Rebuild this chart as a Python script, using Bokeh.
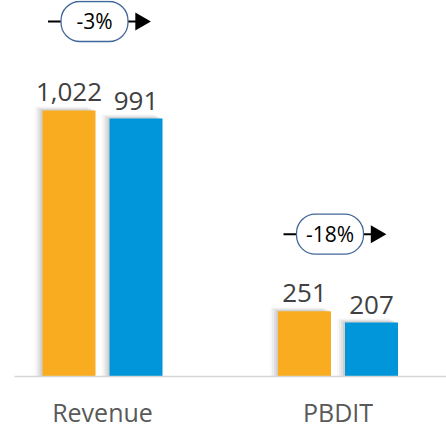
from bokeh.plotting import figure
from bokeh.models import Range1d, FixedTicker
from bokeh.core.properties import value
from bokeh.embed import file_html
from bokeh.resources import INLINE
import math

# ---- data ----
categories = ["Revenue", "PBDIT"]
prev_values = [1022, 251]
curr_values = [991, 207]
growth_labels = ["-3%", "-18%"]

# ---- style ----
ORANGE = "#F9AC1F"
BLUE = "#0096D9"
FONT = "Open Sans"
W, H = 446, 432
FRAME_LEFT = 14
FRAME_BOTTOM = 56
UNIT_PX = 235.5            # pixels per category step
FIRST_CENTER_PX = 88       # first category centre from frame left
Y_MAX = 1444.6             # y-range end
frame_w = W - FRAME_LEFT
frame_h = H - FRAME_BOTTOM
PX = 1.0 / UNIT_PX                 # data units per px (x)
PY = Y_MAX / frame_h               # data units per px (y)
x_start = -FIRST_CENTER_PX * PX
x_end = x_start + frame_w * PX
BAR_OFF = 33.5 * PX
BAR_W = 53 * PX
pill_dx = -8                        # pill centre offset from group centre (px)
pill_above_px = [89, 77]            # pill centre above taller bar (px)

p = figure(width=W, height=H, output_backend="svg", toolbar_location=None,
           x_range=Range1d(x_start, x_end), y_range=Range1d(0, Y_MAX),
           min_border_left=FRAME_LEFT, min_border_right=0, min_border_top=0,
           min_border_bottom=FRAME_BOTTOM)
p.outline_line_color = None
p.grid.visible = False
p.yaxis.visible = False
p.background_fill_color = "white"
p.border_fill_color = "white"

xs = list(range(len(categories)))
x_prev = [x - BAR_OFF for x in xs]
x_curr = [x + BAR_OFF for x in xs]

# soft shadows on the left side of bars
for k, a in [(8, 0.04), (6, 0.06), (4, 0.08), (2, 0.10)]:
    p.vbar(x=[x - k * PX for x in x_prev], top=[v + k * 0.5 * PY for v in prev_values],
           width=BAR_W, bottom=0, fill_color="#404040", fill_alpha=a, line_color=None)
    p.vbar(x=[x - k * PX for x in x_curr], top=[v + k * 0.5 * PY for v in curr_values],
           width=BAR_W, bottom=0, fill_color="#404040", fill_alpha=a, line_color=None)

p.vbar(x=x_prev, top=prev_values, width=BAR_W, bottom=0, fill_color=ORANGE, line_color=None)
p.vbar(x=x_curr, top=curr_values, width=BAR_W, bottom=0, fill_color=BLUE, line_color=None)

# value labels
for xv, vals in [(x_prev, prev_values), (x_curr, curr_values)]:
    p.text(x=xv, y=vals, text=[f"{v:,}" for v in vals],
           text_align="center", text_baseline="alphabetic", y_offset=-18,
           text_font=value(FONT), text_font_size="26px", text_color="#404040")

# growth pills
pc_x = [x + pill_dx * PX for x in xs]
pc_y = [max(a, b) + d * PY for a, b, d in zip(prev_values, curr_values, pill_above_px)]
p.segment(x0=[x - 46.5 * PX for x in pc_x], x1=[x - 33.5 * PX for x in pc_x],
          y0=pc_y, y1=pc_y, line_color="black", line_width=2)
p.segment(x0=[x + 33.5 * PX for x in pc_x], x1=[x + 42 * PX for x in pc_x],
          y0=pc_y, y1=pc_y, line_color="black", line_width=2)
p.scatter(x=[x + 46 * PX for x in pc_x], y=pc_y, marker="triangle", size=18,
          angle=-math.pi / 2, fill_color="black", line_color=None)
p.rect(x=pc_x, y=pc_y, width=67, height=40, width_units="screen", height_units="screen",
       fill_color="white", line_color="#41679A", line_width=1.3, border_radius=19)
p.text(x=pc_x, y=pc_y, text=growth_labels, text_align="center", text_baseline="middle",
       text_font=value(FONT), text_font_size="21px", text_color="black")

# x axis
ax = p.xaxis[0]
ax.ticker = FixedTicker(ticks=xs)
ax.major_label_overrides = {i: c for i, c in enumerate(categories)}
ax.major_tick_line_color = None
ax.minor_tick_line_color = None
ax.major_tick_out = 0
ax.major_tick_in = 0
ax.axis_line_color = "#D6D6D6"
ax.axis_line_width = 1.5
ax.major_label_standoff = 18
ax.major_label_text_font = FONT
ax.major_label_text_font_size = "25px"
ax.major_label_text_color = "#595959"

open("out.html", "w").write(file_html(p, INLINE))
